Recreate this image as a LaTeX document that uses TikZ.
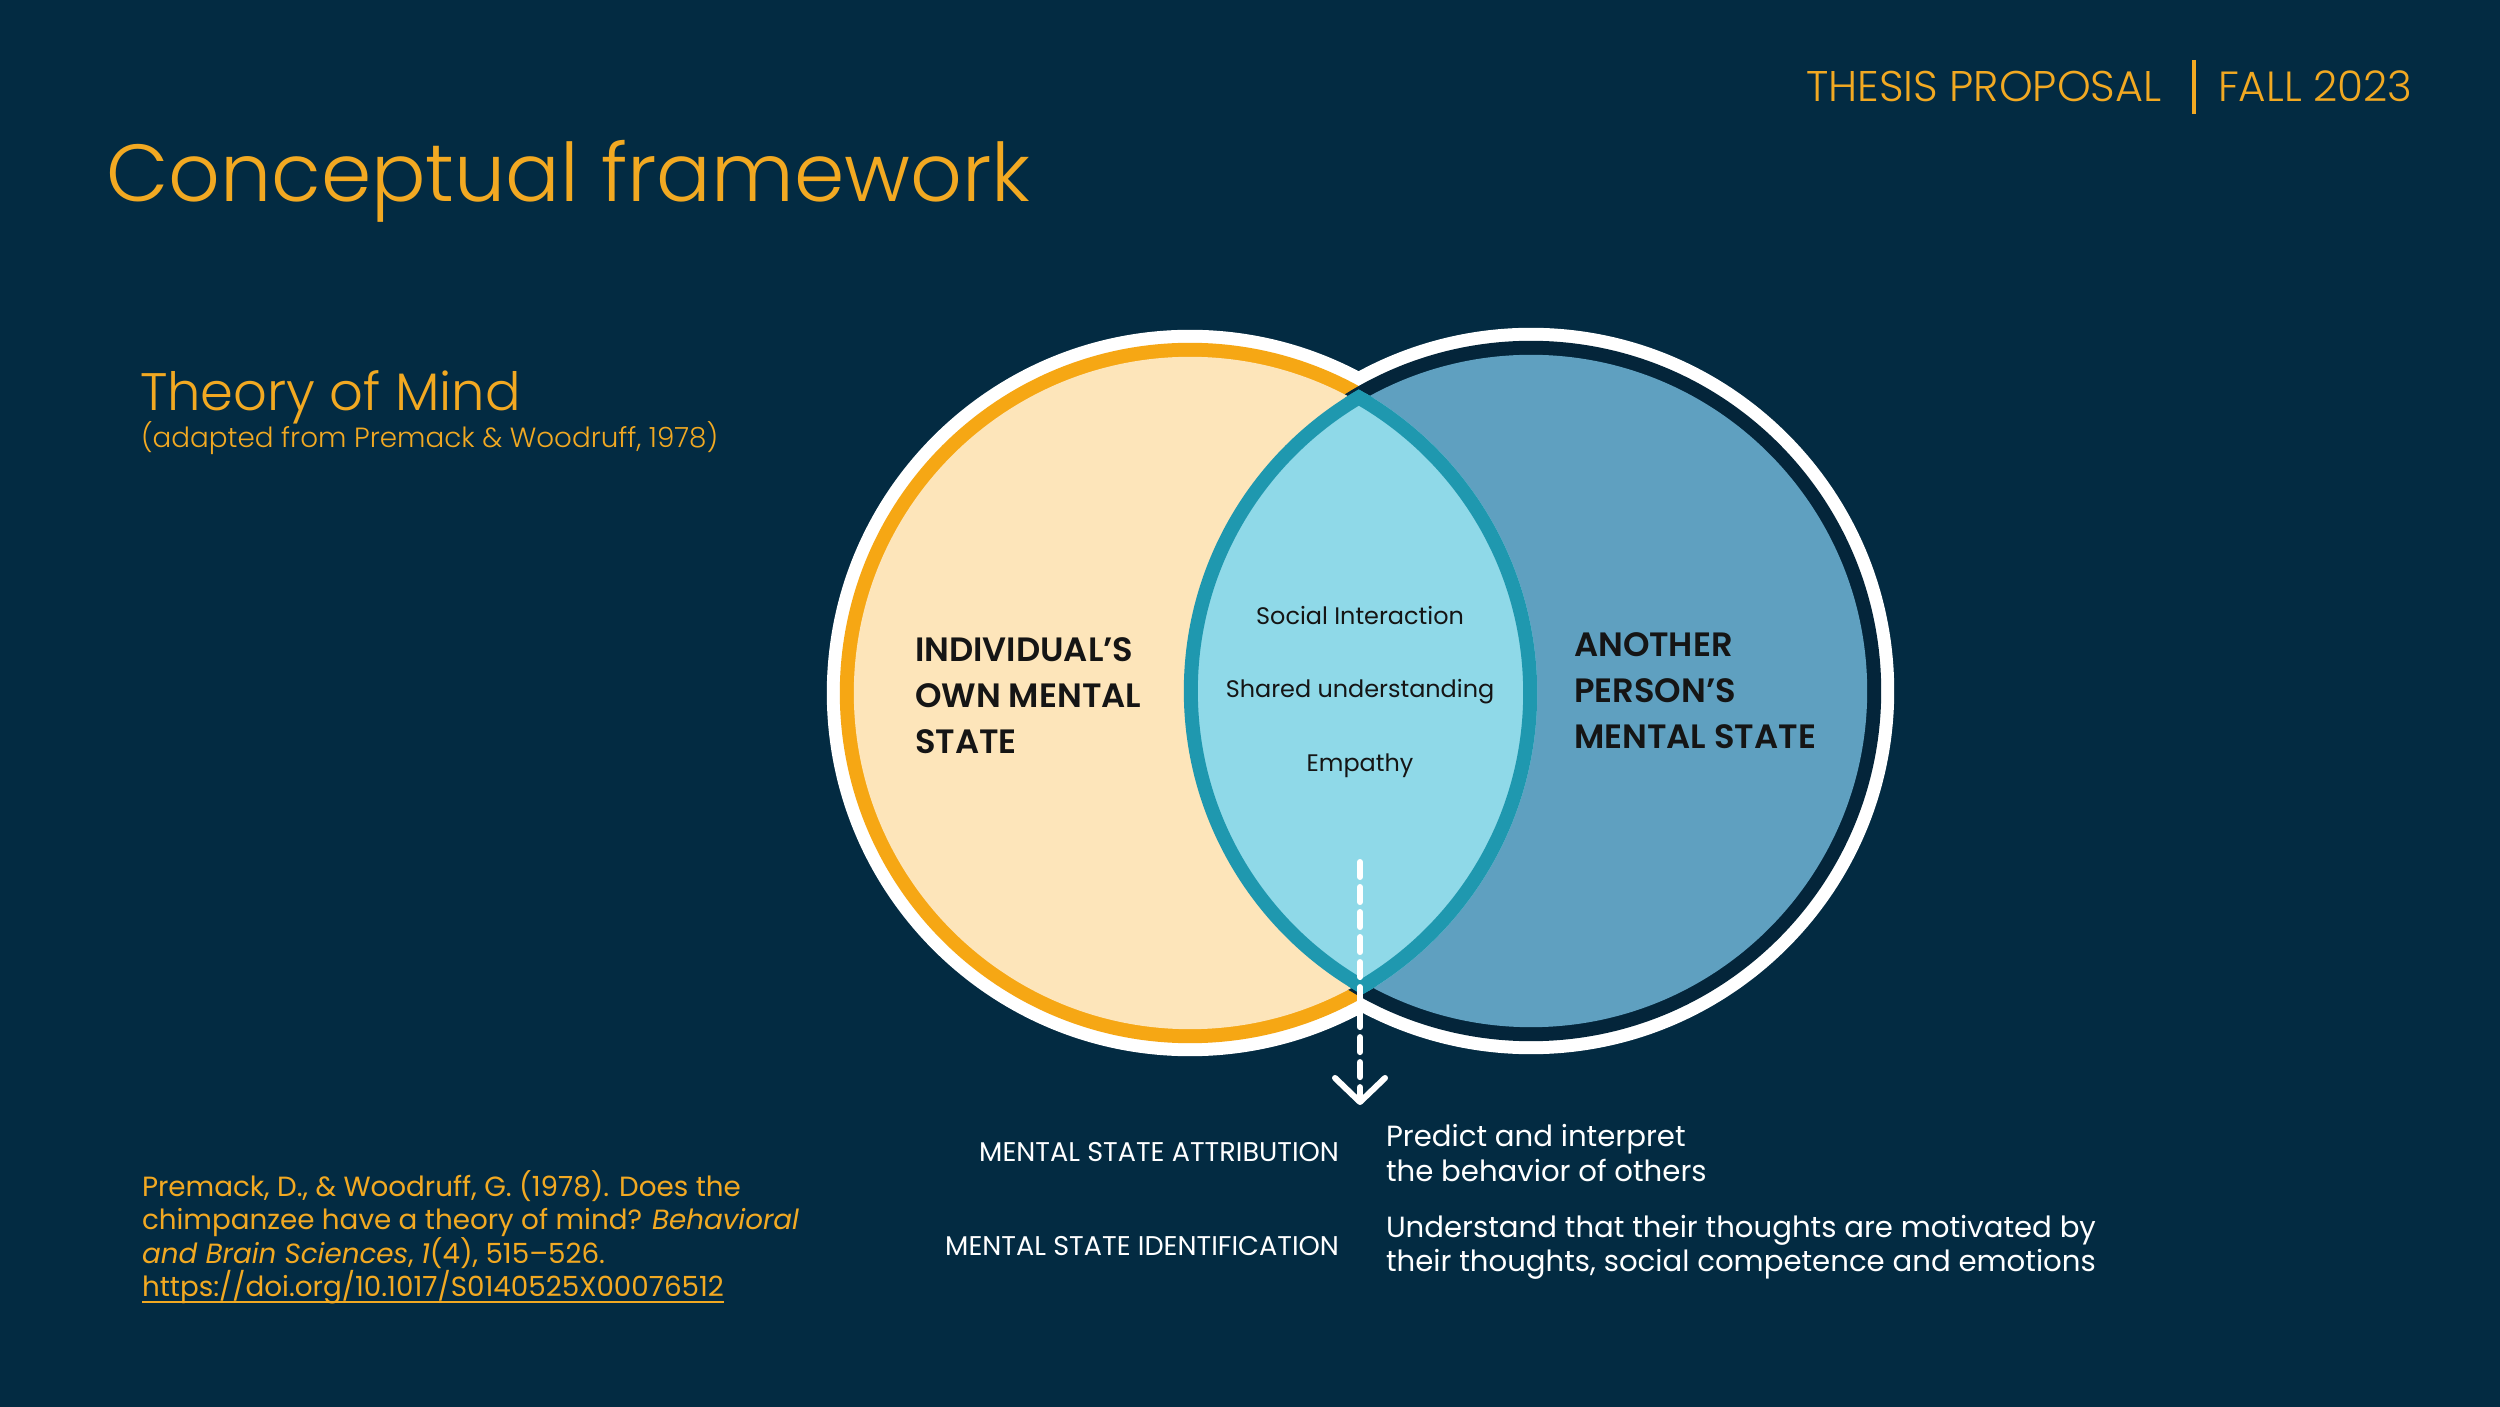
\documentclass[tikz,border=0pt]{standalone}
\usepackage{fontspec}
\setmainfont{Poppins}
\newfontfamily\lightfont{Poppins Light}
\newfontfamily\semifont{Poppins SemiBold}
\usetikzlibrary{arrows.meta}
\definecolor{bg}{HTML}{032B42}
\definecolor{gold}{HTML}{F2A922}
\definecolor{ringor}{HTML}{F6A714}
\definecolor{peach}{HTML}{FDE5BA}
\definecolor{ringnv}{HTML}{04253A}
\definecolor{blue}{HTML}{5FA0C0}
\definecolor{lens}{HTML}{8FD9E8}
\definecolor{teal}{HTML}{1F98AF}
\definecolor{ink}{HTML}{151515}
\tikzset{
  txt/.style={inner sep=0pt, outer sep=0pt},
  gold text/.style={txt, text=gold},
  circle label/.style={txt, text=ink, anchor=base west, font=\fontsize{9.6}{11}\selectfont\semifont},
  lens label/.style={txt, text=ink, anchor=base, font=\fontsize{6.8}{9}\selectfont},
  small caps/.style={txt, text=white, anchor=base east, font=\fontsize{7.7}{9}\selectfont},
  desc/.style={txt, text=white, anchor=base west, font=\fontsize{8.3}{10}\selectfont},
  ref/.style={gold text, anchor=base west, font=\fontsize{7.9}{10}\selectfont},
}
\begin{document}
\begin{tikzpicture}[x=0.01cm,y=-0.01cm]
\fill[bg] (0,0) rectangle (2500,1407);
\useasboundingbox (0,0) rectangle (2500,1407);
% header
\node[gold text, anchor=base west, font=\fontsize{12.2}{14}\selectfont\lightfont] (hdr1) at (1806,102) {THESIS PROPOSAL};
\node[gold text, anchor=base west, font=\fontsize{12}{14}\selectfont\lightfont] (hdr2) at (2218,102) {FALL 2023};
\coordinate (bartop) at (2194,60);
\coordinate (barbot) at (2194,114);
\draw[gold, line width=0.04cm] (bartop) -- (barbot);
% titles
\node[gold text, anchor=base west, font=\fontsize{23}{28}\selectfont\lightfont] (title) at (106,202) {Conceptual framework};
\node[gold text, anchor=base west, font=\fontsize{15}{17}\selectfont\lightfont] (tom) at (140,411) {Theory of Mind};
\node[gold text, anchor=base west, font=\fontsize{7.9}{10}\selectfont\lightfont] (adapted) at (141,448) {(adapted from Premack \& Woodruff, 1978)};
% venn
\coordinate (L) at (1190,693);
\coordinate (R) at (1531,691);
\fill[white] (L) circle[radius=3.63cm] (R) circle[radius=3.63cm];
\fill[ringor] (L) circle[radius=3.50cm];
\fill[ringnv] (R) circle[radius=3.50cm];
\fill[peach] (L) circle[radius=3.36cm];
\fill[blue] (R) circle[radius=3.36cm];
\begin{scope}
  \clip (L) circle[radius=3.47cm];
  \fill[lens] (R) circle[radius=3.40cm];
  \draw[teal, line width=0.14cm] (R) circle[radius=3.40cm];
\end{scope}
\begin{scope}
  \clip (R) circle[radius=3.47cm];
  \clip (L) circle[radius=3.48cm];
  \draw[teal, line width=0.14cm] (L) circle[radius=3.40cm];
\end{scope}
% circle labels
\node[circle label] (l1) at (915,662) {INDIVIDUAL’S};
\node[circle label] (l2) at (915,708) {OWN MENTAL};
\node[circle label] (l3) at (915,754) {STATE};
\node[circle label] (r1) at (1574,657) {ANOTHER};
\node[circle label] (r2) at (1574,703) {PERSON’S};
\node[circle label] (r3) at (1574,749) {MENTAL STATE};
\node[lens label] (c1) at (1360,625) {Social Interaction};
\node[lens label] (c2) at (1360,698) {Shared understanding};
\node[lens label] (c3) at (1360,772) {Empathy};
% dashed arrow
\coordinate (dtop) at (1360,862);
\coordinate (dtip) at (1360,1105);
\draw[white, line width=0.06cm, line cap=round, dash pattern=on 0.15cm off 0.10cm,
  -{Straight Barb[length=0.24cm, width=0.50cm, line cap=round, line join=round]}] (dtop) -- (dtip);
% bottom texts
\node[small caps] (m1) at (1339,1161) {MENTAL STATE ATTRIBUTION};
\node[small caps] (m2) at (1339,1255) {MENTAL STATE IDENTIFICATION};
\node[desc] (d1) at (1386,1146) {Predict and interpret};
\node[desc] (d2) at (1386,1181) {the behavior of others};
\node[desc] (d3) at (1386,1237) {Understand that their thoughts are motivated by};
\node[desc] (d4) at (1386,1271) {their thoughts, social competence and emotions};
% reference
\node[ref] (p1) at (142,1196) {Premack, D., \& Woodruff, G. (1978). Does the};
\node[ref] (p2) at (142,1229) {chimpanzee have a theory of mind? \textit{Behavioral}};
\node[ref] (p3) at (142,1263) {\textit{and Brain Sciences}, \textit{1}(4), 515–526.};
\node[ref] (p4) at (142,1296) {https://doi.org/10.1017/S0140525X00076512};
\coordinate (ul1) at (142,1302);
\coordinate (ul2) at (p4.east |- ul1);
\draw[gold, line width=0.025cm] (ul1) -- (ul2);
\end{tikzpicture}
\end{document}
